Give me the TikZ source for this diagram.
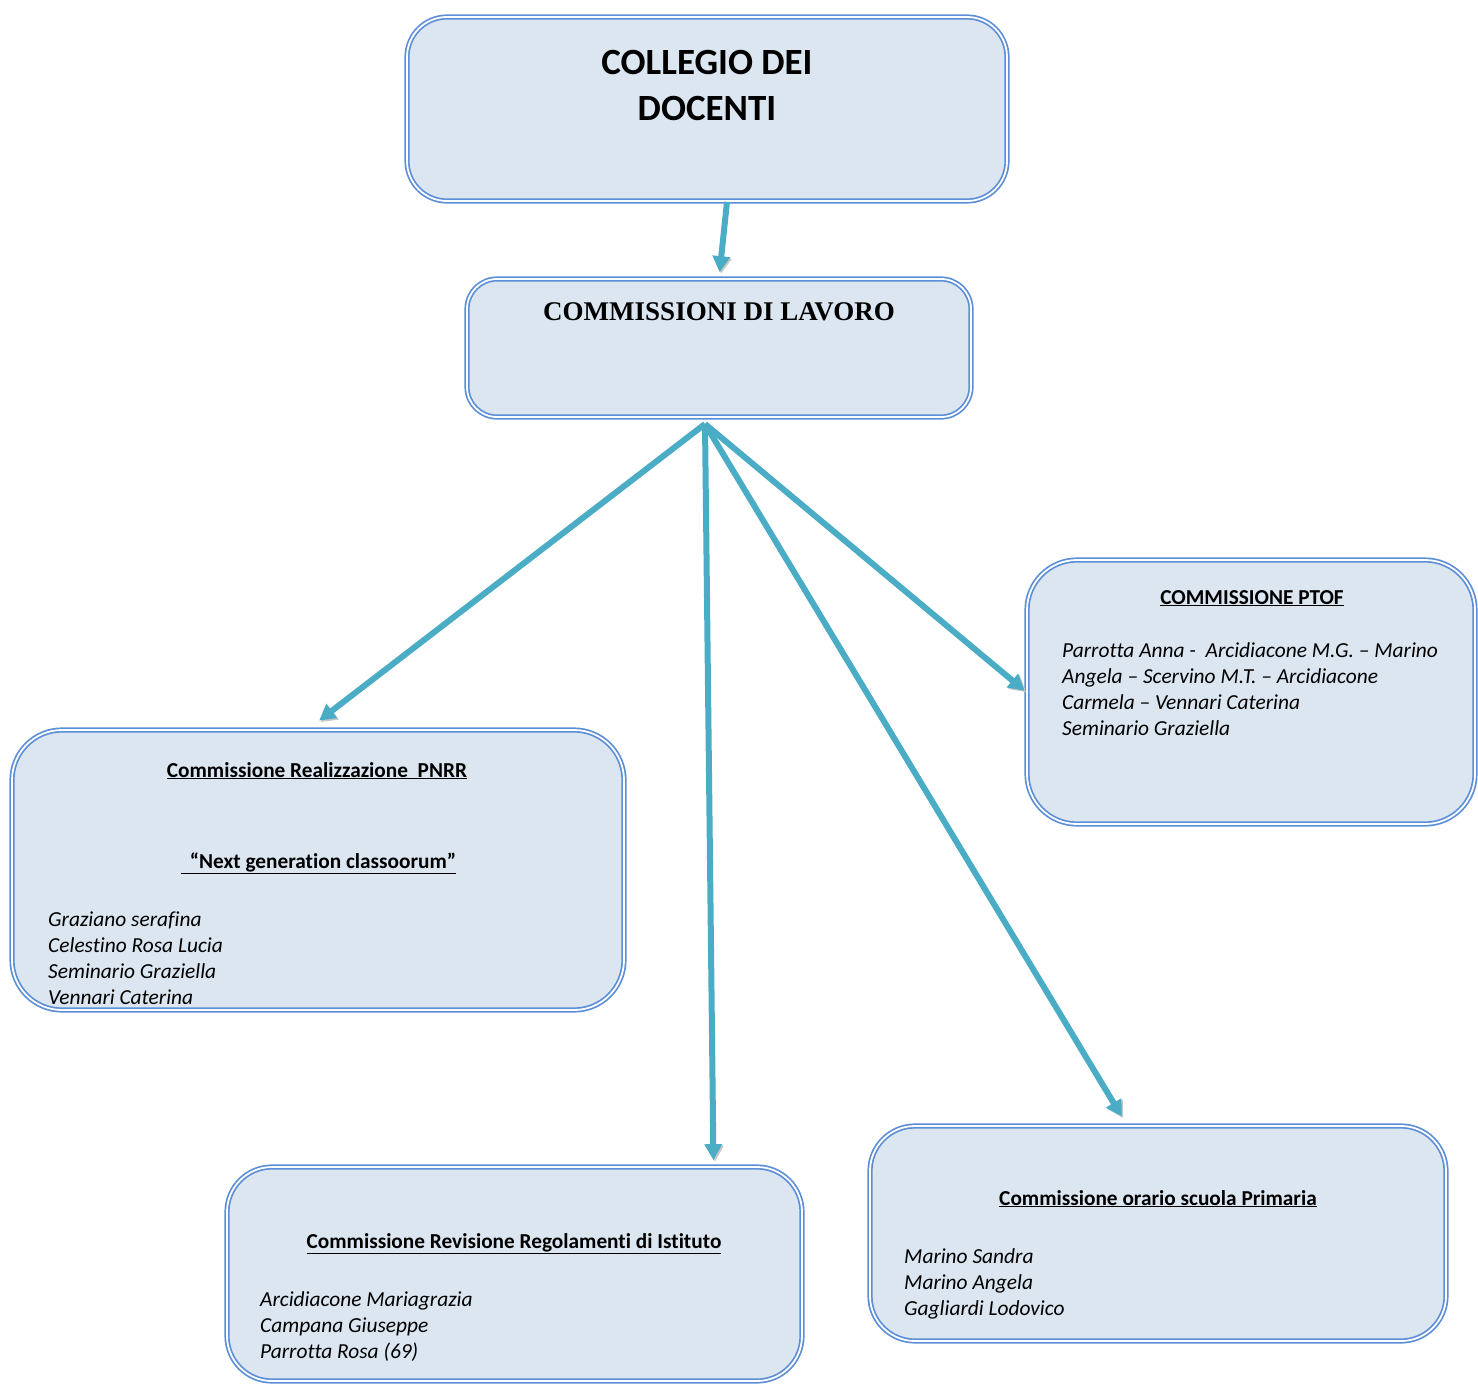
\documentclass[tikz,border=0pt]{standalone}
\usepackage{fontspec}
\setmainfont{Carlito}[Ligatures={TeX,NoCommon}]
\newfontfamily\serifhead{Liberation Serif}
\usetikzlibrary{arrows.meta}
\definecolor{boxline}{HTML}{5B8ED6}
\definecolor{boxfill}{HTML}{DCE6F1}
\definecolor{linkcol}{HTML}{4BACC6}

\begin{document}
\begin{tikzpicture}[x=1pt,y=-1pt,
  box/.style={draw=boxline,line width=1.7pt,double=white,double distance=1.8pt,fill=boxfill,rounded corners=#1,inner sep=0pt},
  link/.style={draw=linkcol,line width=6pt,-{Triangle[length=16pt,width=17pt]},
    preaction={draw=black!22,transform canvas={xshift=1.5pt,yshift=-1.5pt}}},
  head/.style={font=\fontsize{21.3}{24}\selectfont\bfseries,anchor=base,inner sep=0pt},
  names/.style={font=\fontsize{21.4}{26}\selectfont\itshape,align=left,anchor=north west,inner sep=0pt}]
  \useasboundingbox (0,0) rectangle (1478,1384);
  \node[box=40pt,minimum width=600pt,minimum height=184pt] (collegio) at (707,109) {};
  \node[box=30pt,minimum width=504pt,minimum height=138pt] (commissioni) at (719,348) {};
  \node[box=50pt,minimum width=612pt,minimum height=280pt] (pnrr) at (318,870) {};
  \node[box=50pt,minimum width=448pt,minimum height=264pt] (ptof) at (1251,692) {};
  \node[box=45pt,minimum width=575pt,minimum height=214pt] (revisione) at (514.5,1274) {};
  \node[box=45pt,minimum width=576pt,minimum height=215pt] (orario) at (1158,1233.5) {};

  \node[font=\fontsize{37}{46}\selectfont\bfseries,align=center,anchor=north,inner sep=0pt] (collegiotxt) at (707,50) {COLLEGIO DEI\\DOCENTI};
  \node[font=\fontsize{27}{30}\selectfont\serifhead\bfseries,anchor=base,inner sep=0pt] (commtxt) at (719,320) {COMMISSIONI DI LAVORO};

  \node[head] (pnrrhead) at (317,777) {\underline{Commissione Realizzazione\ \ PNRR}};
  \node[head] (pnrrsub) at (318.5,868) {\underline{\hspace{9pt}“Next generation classoorum”}};
  \node[names] (pnrrnames) at (48,912) {Graziano serafina\\Celestino Rosa Lucia\\Seminario Graziella\\Vennari Caterina};

  \node[head] (ptofhead) at (1252,604) {\underline{COMMISSIONE PTOF}};
  \node[names] (ptofnames) at (1062,642) {Parrotta Anna -\ \ Arcidiacone M.G. -- Marino\\Angela -- Scervino M.T. -- Arcidiacone\\Carmela -- Vennari Caterina\\Seminario Graziella};

  \node[head] (revhead) at (514,1248) {\underline{Commissione Revisione Regolamenti di Istituto}};
  \node[names] (revnames) at (260,1291) {Arcidiacone Mariagrazia\\Campana Giuseppe\\Parrotta Rosa (69)};

  \node[head] (orariohead) at (1158,1205) {\underline{Commissione orario scuola Primaria}};
  \node[names] (orarionames) at (904,1248) {Marino Sandra\\Marino Angela\\Gagliardi Lodovico};

  \coordinate (hub) at (705,424);
  \draw[link,shorten >=6pt] ([xshift=20pt]collegio.south) -- (commissioni.north);
  \draw[link,shorten >=14pt] (hub) -- ([xshift=-10pt]pnrr.north);
  \draw[link,shorten >=6pt] (hub) -- ([xshift=199pt]revisione.north);
  \draw[link,shorten >=10pt] (hub) -- ([xshift=-31pt]orario.north);
  \draw[link,shorten >=2pt] (hub) -- (ptof.west);
\end{tikzpicture}
\end{document}
